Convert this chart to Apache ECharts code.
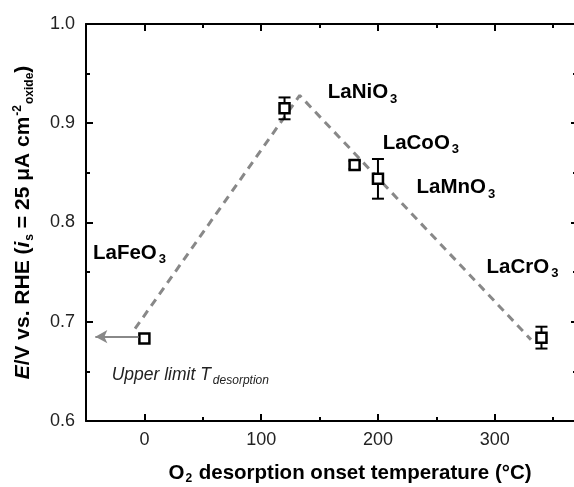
<!DOCTYPE html>
<html>
  <head>
    <meta charset="utf-8" />
    <script src="https://cdn.jsdelivr.net/npm/echarts@6.0.0/dist/echarts.min.js"></script>
  </head>
  <body style="margin:0">
    <div id="main" style="width: 574px; height: 487px"></div>

    <script type="text/javascript">
      // measured points: temperature (C), potential (V), error (V)
      var oxides = ["LaFeO3", "LaNiO3", "LaCoO3", "LaMnO3", "LaCrO3"];
      var tempC = [0, 120, 180, 200, 340];
      var potential = [0.683, 0.915, 0.858, 0.844, 0.684];
      var errV = [0, 0.011, 0.004, 0.02, 0.011];

      // dashed guide line
      var guideX = [-8, 133, 331];
      var guideY = [0.693, 0.928, 0.682];

      // label anchors (left edge of text)
      var labelX = [-44, 157, 204, 233, 293];
      var labelY = [0.769, 0.931, 0.880, 0.835, 0.755];

      var xMajor = [0, 100, 200, 300];
      var xMinor = [-50, 50, 150, 250, 350];

      var font = "Liberation Sans, Arial, sans-serif";

      var myChart = echarts.init(document.getElementById("main"));

      var points = tempC.map(function (t, i) { return [t, potential[i], errV[i]]; });
      var labels = oxides.map(function (n, i) { return [labelX[i], labelY[i], n]; });
      var guide = guideX.map(function (x, i) { return [x, guideY[i]]; });

      function xAx(pos, ticks, len, showLabel, showLine) {
        return {
          type: "value", position: pos, min: -50, max: 373, gridIndex: 0,
          axisLine: { show: showLine, onZero: false, lineStyle: { color: "#000", width: 2 } },
          axisTick: { inside: true, length: len, customValues: ticks, lineStyle: { color: "#000", width: 2 } },
          axisLabel: { show: showLabel, customValues: ticks, color: "#222", fontSize: 18, fontFamily: font, margin: 10 },
          splitLine: { show: false }
        };
      }

      var xAxes = [
        xAx("bottom", xMajor, 7, true, true),
        xAx("bottom", xMinor, 4, false, false),
        xAx("top", xMajor, 7, false, true),
        xAx("top", xMinor, 4, false, false)
      ];
      xAxes[0].name = "{b|O}{sub|2}{b| desorption onset temperature (°C)}";
      xAxes[0].nameLocation = "middle";
      xAxes[0].nameGap = 40;
      xAxes[0].nameTextStyle = {
        padding: [0, 0, 0, 34],
        rich: {
          b: { fontSize: 20.5, fontWeight: "bold", fontFamily: font, color: "#000" },
          sub: { fontSize: 12, fontWeight: "bold", fontFamily: font, color: "#000", padding: [12, 1, 0, 1] }
        }
      };

      function yAx(pos, showLabel) {
        return {
          type: "value", position: pos, min: 0.6, max: 1.0, interval: 0.1,
          axisLine: { show: true, onZero: false, lineStyle: { color: "#000", width: 2 } },
          axisTick: { inside: true, length: 7, lineStyle: { color: "#000", width: 2 } },
          minorTick: { show: true, splitNumber: 2, length: 4, lineStyle: { color: "#000", width: 2 } },
          axisLabel: { show: showLabel, color: "#222", fontSize: 18, fontFamily: font, margin: 11,
            formatter: function (v) { return v.toFixed(1); } },
          splitLine: { show: false }
        };
      }

      var yAxes = [yAx("left", true), yAx("right", false)];
      yAxes[1].axisTick.length = 9;
      yAxes[1].minorTick.length = 7;
      yAxes[0].name = "{it|E}{b|/V vs. RHE (}{it|i}{sub|s}{b| = 25 μA cm}{sup|-2}{sub|oxide}{b|)}";
      yAxes[0].nameLocation = "middle";
      yAxes[0].nameRotate = 90;
      yAxes[0].nameGap = 50;
      yAxes[0].nameTextStyle = {
        rich: {
          b: { fontSize: 21, fontWeight: "bold", fontFamily: font, color: "#000" },
          it: { fontSize: 21, fontWeight: "bold", fontStyle: "italic", fontFamily: font, color: "#000" },
          sub: { fontSize: 12, fontWeight: "bold", fontFamily: font, color: "#000", padding: [13, 0, 0, 1] },
          sup: { fontSize: 12, fontWeight: "bold", fontFamily: font, color: "#000", padding: [0, 0, 11, 1] }
        }
      };

      var option = {
        animation: false,
        grid: { left: 86, top: 24, width: 494, height: 397, outerBoundsMode: "none" },
        xAxis: xAxes,
        yAxis: yAxes,
        series: [
          {
            type: "line",
            data: guide,
            symbol: "none",
            lineStyle: { color: "#888", width: 3, type: [8, 6] },
            z: 1,
            markLine: {
              silent: true,
              symbol: ["none", "arrow"],
              symbolSize: [10, 12],
              label: { show: false },
              lineStyle: { color: "#888", width: 2, type: "solid" },
              data: [[{ coord: [-5, 0.685] }, { coord: [-42, 0.685] }]]
            }
          },
          {
            type: "custom",
            data: points,
            z: 2,
            renderItem: function (params, api) {
              var e = api.value(2);
              if (!e) return null;
              var x = api.value(0), y = api.value(1);
              var top = api.coord([x, y + e]);
              var bot = api.coord([x, y - e]);
              var st = { stroke: "#000", lineWidth: 2 };
              return {
                type: "group",
                children: [
                  { type: "line", shape: { x1: top[0], y1: top[1], x2: bot[0], y2: bot[1] }, style: st },
                  { type: "line", shape: { x1: top[0] - 6, y1: top[1], x2: top[0] + 6, y2: top[1] }, style: st },
                  { type: "line", shape: { x1: bot[0] - 6, y1: bot[1], x2: bot[0] + 6, y2: bot[1] }, style: st }
                ]
              };
            }
          },
          {
            type: "scatter",
            data: points,
            symbol: "rect",
            symbolSize: 10,
            itemStyle: { color: "#fff", borderColor: "#000", borderWidth: 2.5, opacity: 1 },
            z: 3
          },
          {
            type: "scatter",
            data: labels,
            symbolSize: 0,
            silent: true,
            itemStyle: { opacity: 1 },
            label: {
              show: true,
              position: "right",
              distance: 0,
              formatter: function (p) {
                return "{b|" + p.value[2].slice(0, -1) + "}{sub|3}";
              },
              rich: {
                b: { fontSize: 20.5, fontWeight: "bold", fontFamily: font, color: "#000" },
                sub: { fontSize: 13, fontWeight: "bold", fontFamily: font, color: "#000", padding: [13, 0, 0, 2] }
              }
            }
          },
          {
            type: "scatter",
            data: [[-28, 0.646, "Upper limit T"]],
            symbolSize: 0,
            silent: true,
            itemStyle: { opacity: 1 },
            label: {
              show: true,
              position: "right",
              distance: 0,
              formatter: "{a|Upper limit T}{s|desorption}",
              rich: {
                a: { fontSize: 17.5, fontStyle: "italic", fontFamily: font, color: "#222" },
                s: { fontSize: 12, fontStyle: "italic", fontFamily: font, color: "#222", padding: [11, 0, 0, 2] }
              }
            }
          }
        ]
      };

      myChart.setOption(option);
    </script>
  </body>
</html>
